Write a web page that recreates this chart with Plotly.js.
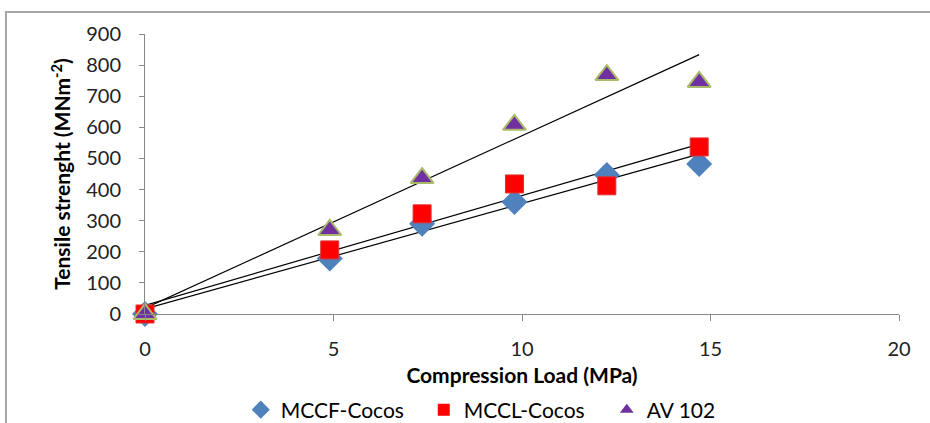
<!DOCTYPE html>
<html><head><meta charset="utf-8">
<script src="https://cdn.plot.ly/plotly-3.0.1.min.js"></script>
<style>body{margin:0;background:#fff}#chart{width:930px;height:423px}</style>
</head><body><div id="chart"></div>
<script>
const loadMPa = [0, 4.9, 7.35, 9.8, 12.25, 14.7];
const mccfCocos = [0, 178, 290, 360, 447, 482];
const mcclCocos = [0, 206, 322, 418, 412, 537];
const av102 = [0, 270, 437, 608, 768, 746];
const seriesNames = ['MCCF-Cocos', 'MCCL-Cocos', 'AV 102'];
const xTicks = [0, 5, 10, 15, 20];
const yTicks = [0, 100, 200, 300, 400, 500, 600, 700, 800, 900];

function fit(x, y) {
  const n = x.length;
  const mx = x.reduce((a, b) => a + b, 0) / n;
  const my = y.reduce((a, b) => a + b, 0) / n;
  let sxy = 0, sxx = 0;
  for (let i = 0; i < n; i++) { sxy += (x[i]-mx)*(y[i]-my); sxx += (x[i]-mx)**2; }
  const m = sxy / sxx, b = my - m * mx;
  const xs = [Math.min(...x), Math.max(...x)];
  return {x: xs, y: xs.map(v => m * v + b)};
}

const markers = [
  {symbol: 'diamond', size: 20, color: '#4F81BD', line: {width: 0}},
  {symbol: 'square', size: 18, color: '#FF0000', line: {color: '#E03030', width: 1}},
  {symbol: 'triangle-up', size: 20, color: '#7030A0', line: {color: '#A9BB6A', width: 2}}
];
const legendMarkers = [
  {symbol: 'diamond', size: 14, color: '#4F81BD', line: {width: 0}},
  {symbol: 'square', size: 12, color: '#FF0000', line: {width: 0}},
  {symbol: 'triangle-up', size: 12, color: '#7030A0', line: {width: 0}}
];

const font = 'Lato, "Open Sans", sans-serif';
const traces = [];
const series = [mccfCocos, mcclCocos, av102];
series.forEach(s => {
  const f = fit(loadMPa, s);
  traces.push({x: f.x, y: f.y, mode: 'lines', line: {color: '#000', width: 1.2}, showlegend: false, hoverinfo: 'skip'});
});
series.forEach((s, i) => {
  traces.push({x: loadMPa, y: s, mode: 'markers', name: seriesNames[i], cliponaxis: false,
    showlegend: false, marker: markers[i]});
});
series.forEach((s, i) => {
  traces.push({x: [null], y: [null], mode: 'markers', name: seriesNames[i], marker: legendMarkers[i]});
});

const layout = {
  width: 930, height: 423,
  margin: {l: 145, r: 31, t: 34, b: 109, autoexpand: false},
  paper_bgcolor: '#fff', plot_bgcolor: '#fff',
  font: {family: font, size: 20, color: '#222'},
  xaxis: {range: [0, 20], tickvals: xTicks, showgrid: false, zeroline: false,
    showline: true, linecolor: '#888', linewidth: 1, ticks: 'outside', ticklen: 6, tickcolor: '#888',
    ticklabelstandoff: 11, automargin: false,
    tickfont: {size: 20, color: '#222'}, title: {text: '<b>Compression Load (MPa)</b>', font: {size: 21, color: '#000'}, standoff: 9}},
  yaxis: {range: [0, 900], tickvals: yTicks, showgrid: false, zeroline: false,
    showline: true, linecolor: '#888', linewidth: 1, ticks: 'outside', ticklen: 5, tickcolor: '#888',
    ticklabelstandoff: 14, automargin: false,
    tickfont: {size: 20, color: '#222'}, title: {text: '<b>Tensile strenght (MNm<sup>-2</sup>)</b>', font: {size: 21, color: '#000'}, standoff: 9}},
  legend: {orientation: 'h', x: 0.127, xanchor: 'left', y: -0.343, yanchor: 'middle',
    font: {size: 21, color: '#000'}, itemwidth: 30, entrywidth: 138, entrywidthmode: 'pixels', tracegroupgap: 0},
  shapes: [{type: 'rect', xref: 'paper', yref: 'paper', x0: -0.1844, x1: 1.2, y0: -0.6, y1: 1.0786,
    line: {color: '#A6A6A6', width: 2}, layer: 'below'}],
  showlegend: true
};
Plotly.newPlot('chart', traces, layout, {displayModeBar: false, staticPlot: true});
</script></body></html>
